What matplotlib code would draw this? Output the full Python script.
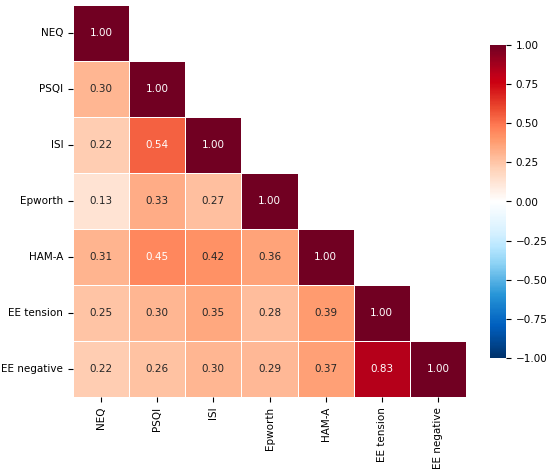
import numpy as np
import matplotlib
matplotlib.use("Agg")
import matplotlib.pyplot as plt
import matplotlib.colors as mcolors
import seaborn as sns

labels = ["NEQ", "PSQI", "ISI", "Epworth", "HAM-A", "EE tension", "EE negative"]
row_neq = [1.00]
row_psqi = [0.30, 1.00]
row_isi = [0.22, 0.54, 1.00]
row_epworth = [0.13, 0.33, 0.27, 1.00]
row_hama = [0.31, 0.45, 0.42, 0.36, 1.00]
row_eet = [0.25, 0.30, 0.35, 0.28, 0.39, 1.00]
row_een = [0.22, 0.26, 0.30, 0.29, 0.37, 0.83, 1.00]
rows = [row_neq, row_psqi, row_isi, row_epworth, row_hama, row_eet, row_een]
cbar_ticks = [-1.00, -0.75, -0.50, -0.25, 0.00, 0.25, 0.50, 0.75, 1.00]

n = len(labels)
corr = np.full((n, n), np.nan)
for i, r in enumerate(rows):
    for j, v in enumerate(r):
        corr[i, j] = v
        corr[j, i] = v
mask = np.triu(np.ones((n, n), dtype=bool), k=1)

# slightly more vivid RdBu_r, as in the reference
base = plt.get_cmap("RdBu_r")(np.linspace(0, 1, 256))[:, :3]
hsv = mcolors.rgb_to_hsv(base)
hsv[:, 1] = np.clip(hsv[:, 1] * 1.25, 0, 1)
hsv[:, 2] = np.clip(hsv[:, 2] * 1.1, 0, 1)
cmap = mcolors.ListedColormap(mcolors.hsv_to_rgb(hsv))

fs = 7.5
fig = plt.figure(figsize=(5.5, 4.73), dpi=100)
ax = fig.add_axes([73/550, (473-397)/473, 393/550, 392/473])
cax = fig.add_axes([490/550, (473-358)/473, 16/550, 313/473])

sns.heatmap(corr, mask=mask, annot=False, cmap=cmap, vmin=-1, vmax=1,
            linewidths=0.6, linecolor="white", square=False, ax=ax, cbar_ax=cax,
            xticklabels=labels, yticklabels=labels)
for i in range(n):
    for j in range(i + 1):
        v = corr[i, j]
        ax.text(j + 0.5, i + 0.5, f"{v:.2f}", ha="center", va="center", fontsize=fs,
                color="white" if v > 0.44 else "#262626")
ax.tick_params(labelsize=fs)
plt.setp(ax.get_xticklabels(), rotation=90)
plt.setp(ax.get_yticklabels(), rotation=0)
cax.set_yticks(cbar_ticks)
cax.set_yticklabels([f"{t:.2f}".replace("-", "\u2212") for t in cbar_ticks])
cax.tick_params(labelsize=fs)
for s in cax.spines.values():
    s.set_visible(False)
fig.savefig("out.png", dpi=100)
